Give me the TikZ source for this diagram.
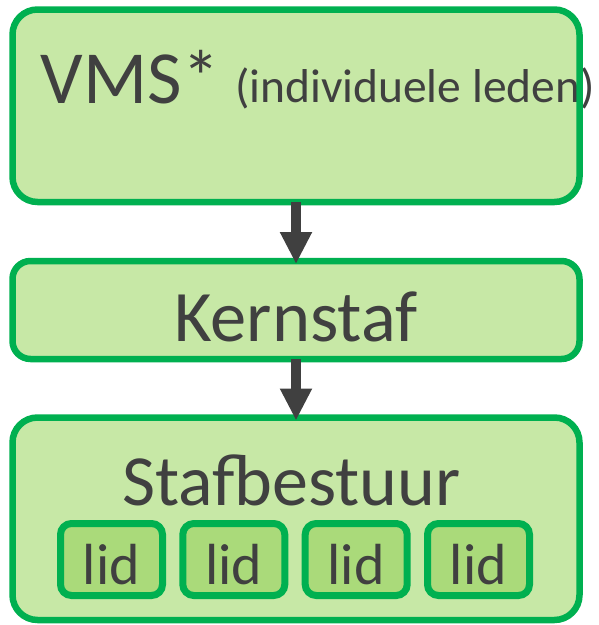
\documentclass[tikz,border=0pt]{standalone}
\usepackage{fontspec}
\setmainfont{Carlito}
\usetikzlibrary{arrows.meta}
\definecolor{boxfill}{HTML}{C7E8A6}
\definecolor{lidfill}{HTML}{AADA7A}
\definecolor{boxline}{HTML}{00B050}
\definecolor{txt}{HTML}{404040}
\definecolor{arr}{HTML}{404040}
\tikzset{
  boxbg/.style={fill=boxfill, draw=none, inner sep=0pt, outer sep=0pt, rectangle, rounded corners=#1},
  boxedge/.style={draw=boxline, line width=6.5pt, rounded corners=#1},
  lidbox/.style={fill=lidfill, draw=boxline, line width=7pt, rounded corners=11pt,
    minimum width=102pt, minimum height=72pt, inner sep=0pt, outer sep=0pt},
  label/.style={text=txt, inner sep=0pt, outer sep=0pt},
  flow/.style={draw=arr, line width=10pt, -{Triangle[length=32pt,width=30pt]}}
}
\begin{document}
\begin{tikzpicture}[x=1pt,y=-1pt]
\useasboundingbox (0,0) rectangle (599,625);
% box backgrounds
\node[boxbg=25pt, minimum width=567pt, minimum height=192.5pt] (vms) at (296,105.75) {};
\node[boxbg=18pt, minimum width=567pt, minimum height=98pt] (kern) at (296,310) {};
\node[boxbg=25pt, minimum width=567pt, minimum height=202.5pt] (staf) at (296,518.75) {};
% texts
\node[label, anchor=base west, font=\fontsize{75}{75}\selectfont] (vmst) at (41,103) {VMS*};
\node[label, anchor=base west, font=\fontsize{47.5}{47.5}\selectfont] (indiv) at (235,102) {(individuele leden)};
\node[label, anchor=base, font=\fontsize{72.5}{72.5}\selectfont] (kernt) at (296,341) {Kernstaf};
\node[label, anchor=base, font=\fontsize{72}{72}\selectfont] (staft) at (291.5,505) {Stafbestuur};
% box borders
\draw[boxedge=25pt] (vms.north west) rectangle (vms.south east);
\draw[boxedge=18pt] (kern.north west) rectangle (kern.south east);
\draw[boxedge=25pt] (staf.north west) rectangle (staf.south east);
% lid boxes
\foreach \i/\x in {1/111.5,2/233.8,3/356.2,4/478.5}{
  \node[lidbox] (lid\i) at (\x,559.5) {};
  \node[label, anchor=base, font=\fontsize{58}{58}\selectfont] (lidt\i) at (\x,584) {lid};
}
% arrows
\draw[flow, shorten >=-3pt] (vms.south) -- (kern.north);
\draw[flow, shorten >=-3pt] (kern.south) -- (staf.north);
\end{tikzpicture}
\end{document}
